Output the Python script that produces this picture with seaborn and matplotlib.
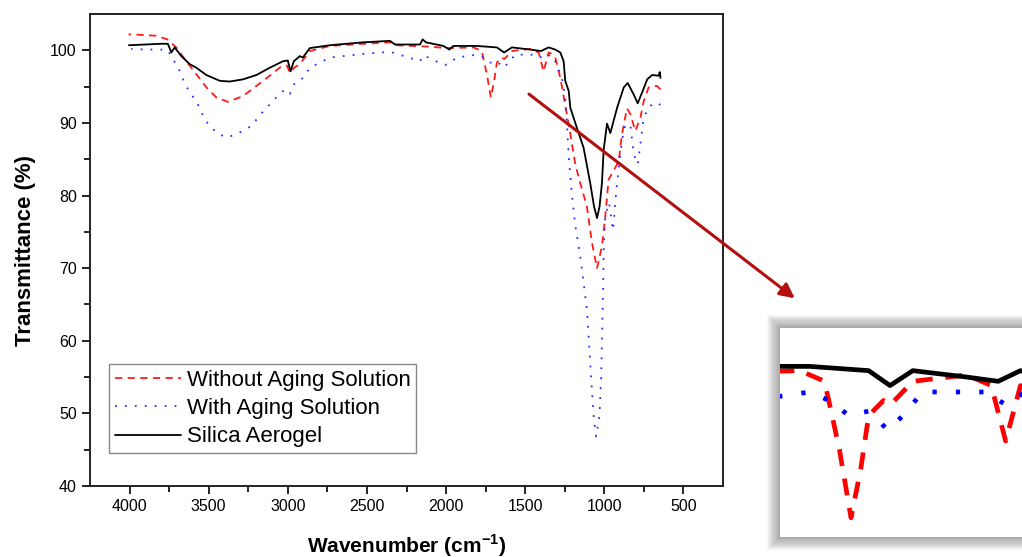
import numpy as np
import pandas as pd
import matplotlib
matplotlib.use("Agg")
import matplotlib.pyplot as plt
import seaborn as sns
from matplotlib.patches import Rectangle

# FTIR spectra (wavenumber cm-1, transmittance %)
silica_x = [4004, 3900, 3800, 3758, 3736, 3715, 3673, 3620, 3578, 3515, 3430, 3367, 3283, 3198,
            3114, 3030, 3000, 2983, 2962, 2924, 2905, 2861, 2734, 2523, 2354, 2323, 2165, 2148,
            2127, 2017, 1979, 1954, 1806, 1679, 1633, 1584, 1468, 1400, 1352, 1310, 1278, 1257,
            1247, 1225, 1215, 1173, 1131, 1089, 1065, 1046, 1030, 1015, 1004, 983, 962, 919, 877,
            852, 814, 789, 761, 729, 698, 656, 650, 645]
silica_y = [100.7, 100.8, 100.9, 100.9, 99.7, 100.4, 99.2, 98.1, 97.6, 96.6, 95.8, 95.7, 96.0, 96.6,
            97.6, 98.5, 98.6, 97.1, 98.5, 99.2, 99.0, 100.3, 100.7, 101.1, 101.3, 100.8, 100.8, 101.5,
            101.1, 100.6, 100.1, 100.6, 100.6, 100.4, 99.7, 100.4, 100.1, 99.9, 100.4, 100.1, 99.7, 98.5,
            95.8, 94.4, 92.1, 89.3, 86.6, 81.7, 78.5, 76.9, 78.5, 81.7, 86.3, 89.9, 88.6, 92.1, 94.9,
            95.5, 93.9, 92.7, 94.2, 96.0, 96.6, 96.5, 97.0, 96.2]

without_x = [4006, 3900, 3831, 3760, 3705, 3641, 3578, 3515, 3451, 3378, 3283, 3198, 3114, 3040,
             3005, 2987, 2960, 2924, 2861, 2734, 2523, 2354, 2312, 2101, 1996, 1827, 1774, 1742,
             1717, 1696, 1679, 1647, 1632, 1584, 1468, 1415, 1384, 1352, 1331, 1310, 1278, 1225,
             1183, 1152, 1110, 1078, 1046, 1015, 994, 973, 909, 889, 857, 835, 804, 772, 751, 720,
             667, 645]
without_y = [102.2, 102.1, 102.0, 101.5, 100.4, 98.5, 96.7, 94.9, 93.5, 92.9, 93.7, 95.1, 96.5, 97.8,
             97.9, 96.9, 97.6, 98.1, 99.9, 100.6, 100.9, 101.1, 100.7, 100.5, 100.3, 100.4, 99.9, 96.7,
             93.5, 95.8, 98.3, 99.0, 98.8, 99.9, 100.2, 99.7, 97.1, 99.7, 99.5, 99.0, 96.2, 89.8,
             84.3, 81.7, 78.5, 73.5, 70.0, 73.0, 77.1, 82.2, 84.7, 88.4, 92.0, 91.2, 88.9, 90.7, 93.0, 94.9,
             95.1, 94.6]

with_x = [3990, 3900, 3800, 3757, 3728, 3696, 3652, 3620, 3578, 3525, 3483, 3441, 3394, 3340, 3283,
          3230, 3156, 3103, 3061, 3019, 2987, 2956, 2903, 2861, 2797, 2734, 2525, 2354, 2249, 2165,
          2144, 2100, 2028, 1996, 1932, 1806, 1764, 1722, 1679, 1637, 1605, 1563, 1426, 1384, 1342,
          1310, 1268, 1247, 1236, 1225, 1204, 1183, 1152, 1131, 1110, 1099, 1084, 1067, 1052, 1031,
          1020, 1014, 1008, 1004, 994, 970, 945, 925, 905, 889, 867, 835, 814, 789, 772, 755, 729,
          687, 645]
with_y = [100.2, 100.1, 100.1, 100.0, 98.8, 97.8, 95.5, 94.2, 93.0, 90.5, 89.3, 88.6, 88.0, 88.3, 88.9,
          89.6, 91.6, 92.8, 93.8, 94.6, 94.0, 95.5, 96.2, 97.6, 98.3, 99.0, 99.5, 99.8, 99.1, 98.5,
          99.3, 98.9, 98.1, 98.0, 99.0, 99.4, 99.0, 98.3, 98.5, 97.6, 98.3, 99.4, 99.4, 98.8, 99.4,
          98.5, 96.2, 93.5, 89.8, 85.4, 79.9, 75.8, 71.6, 68.0, 64.3, 60.6, 55.1, 49.6, 46.8, 49.6,
          55.1, 61.1, 67.0, 72.6, 77.1, 79.0, 75.2, 80.5, 84.5, 87.5, 89.8, 89.6, 85.7, 84.3, 87.0, 90.2, 91.9,
          92.8, 92.5]

series = [
    ("Without Aging Solution", without_x, without_y, "#ff1a1a", (4, 3)),
    ("With Aging Solution", with_x, with_y, "#2a2aff", (1, 4.5)),
    ("Silica Aerogel", silica_x, silica_y, "black", None),
]

sns.set_style("ticks")
plt.rcParams["font.family"] = ["Liberation Sans", "DejaVu Sans"]
plt.rcParams["text.color"] = "black"
plt.rcParams["axes.labelcolor"] = "black"

fig = plt.figure(figsize=(10.22, 5.57), dpi=100)
ax = fig.add_axes([90 / 1022, 1 - 486 / 557, 633 / 1022, 472 / 557])


def draw(target, lw, dash_scale, with_label, colors=None):
    for i, (name, xs, ys, col, dash) in enumerate(series):
        df = pd.DataFrame({"x": xs, "y": ys})
        c = colors[i] if colors else col
        sns.lineplot(data=df, x="x", y="y", ax=target, color=c, lw=lw,
                     estimator=None, label=name if with_label else None)
        ln = target.lines[-1]
        if dash is not None:
            ln.set_dashes([d * dash_scale for d in dash])


draw(ax, 1.3, 1.0, True)

ax.set_xlim(4250, 250)
ax.set_ylim(40, 105)
ax.set_xticks([4000, 3500, 3000, 2500, 2000, 1500, 1000, 500])
ax.set_xticks(np.arange(3750, 250, -500), minor=True)
ax.set_yticks(np.arange(40, 101, 10))
ax.set_yticks(np.arange(45, 100, 10), minor=True)
ax.tick_params(which="both", direction="out", width=1.2, colors="black", labelsize=11.5)
ax.tick_params(which="major", length=6)
ax.tick_params(which="minor", length=4)
for s in ax.spines.values():
    s.set_linewidth(1.4)
    s.set_color("#222222")
ax.set_xlabel("Wavenumber (cm$^{\\mathregular{-1}}$)", fontsize=15, fontweight="bold", labelpad=13)
ax.set_ylabel("Transmittance (%)", fontsize=16, fontweight="bold", labelpad=10)

leg = ax.legend(loc="lower left", bbox_to_anchor=(0.03, 0.07), borderaxespad=0,
                fontsize=16, handlelength=3.0, handletextpad=0.25, labelspacing=0.33,
                fancybox=False, edgecolor="#888888", framealpha=1, borderpad=0.25)
leg.get_frame().set_linewidth(1.0)
for t in leg.get_texts():
    t.set_color("black")

# inset with soft shadow
x0, y0, w, h = 780 / 1022, 1 - 537 / 557, 260 / 1022, 209 / 557
for i in range(12, 0, -1):
    pad = i * 1.1
    fig.patches.append(Rectangle((x0 - pad / 1022, y0 - pad / 557), w + 2 * pad / 1022, h + 2 * pad / 557,
                                 transform=fig.transFigure, facecolor="black", alpha=0.03,
                                 edgecolor="none", zorder=-1))
ins = fig.add_axes([x0, y0, w, h])
ins.set_zorder(5)
draw(ins, 3.4, 0.9, False, colors=["#ff0000", "#0000ff", "black"])
ins.set_xlim(1870, 1310)
ins.set_ylim(92.6, 102.4)
ins.set_xticks([])
ins.set_yticks([])
ins.set_xlabel("")
ins.set_ylabel("")
for s in ins.spines.values():
    s.set_visible(False)
ins.patch.set_facecolor("white")
ins.patch.set_alpha(1)

ax.annotate("", xy=(797 / 1022, 1 - 300 / 557), xycoords="figure fraction",
            xytext=(1490, 94.2), textcoords="data",
            arrowprops=dict(arrowstyle="-|>", color="#b30f0f", lw=2.2, mutation_scale=22),
            annotation_clip=False, zorder=10)

fig.savefig("out.png", dpi=100)
